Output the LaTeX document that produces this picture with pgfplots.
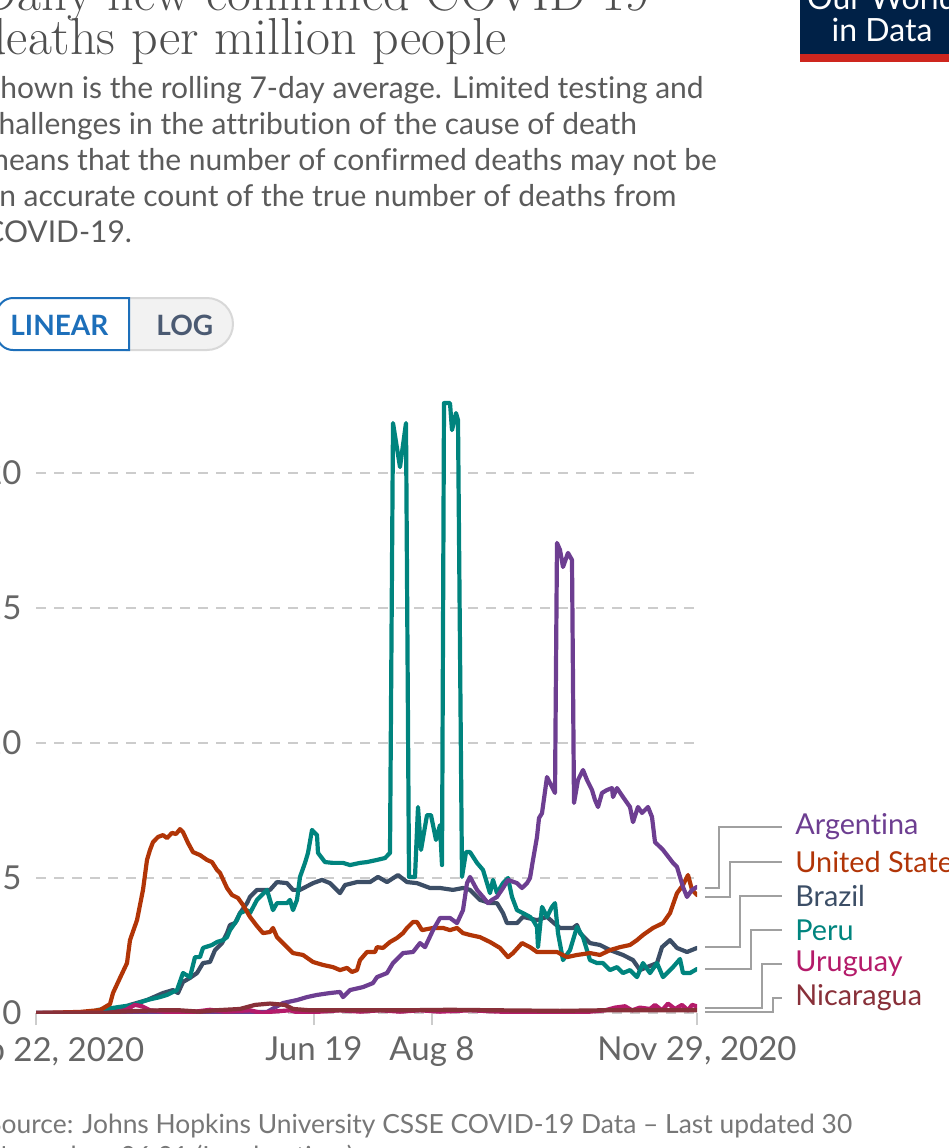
\documentclass[border=0pt]{standalone}
\usepackage{pgfplots}
\pgfplotsset{compat=1.18}
\usepackage{fontspec}
\newfontfamily\lato{Lato}[Ligatures={NoCommon}]
\definecolor{ttl}{HTML}{4F4F4F}
\definecolor{subc}{HTML}{5B5B5B}
\definecolor{tickc}{HTML}{666666}
\definecolor{gridc}{HTML}{CCCCCC}
\definecolor{leadc}{HTML}{A0A0A0}
\definecolor{arg}{HTML}{6D3E91}
\definecolor{usa}{HTML}{B13507}
\definecolor{bra}{HTML}{3C4E66}
\definecolor{per}{HTML}{00847E}
\definecolor{uru}{HTML}{B41B6A}
\definecolor{nic}{HTML}{883039}
\definecolor{owid}{HTML}{002147}
\definecolor{owidred}{HTML}{CE261E}
\definecolor{linblue}{HTML}{1D6FBA}
\definecolor{logc}{HTML}{4B5A72}
\definecolor{btngray}{HTML}{F2F2F2}
\definecolor{btnborder}{HTML}{D8D8D8}
\definecolor{srcc}{HTML}{777777}
\tikzset{ln/.style={line width=2.1pt, line join=round, line cap=round}}
\begin{document}
\begin{tikzpicture}
\path[use as bounding box] (0pt,0pt) rectangle (474.5pt,-574pt);
% chart
\begin{axis}[
  at={(18pt,-506.5pt)}, anchor=south west,
  scale only axis, width=330.5pt, height=310.5pt,
  xmin=36, xmax=697, ymin=0, ymax=23,
  axis line style={draw=none},
  ytick={0,5,10,15,20}, yticklabels={0,5,10,15,20},
  ymajorgrids, grid style={draw=gridc, line width=0.75pt, dash pattern=on 5pt off 4pt},
  ytick style={draw=none},
  xtick={36,314,432,697}, xtick pos=bottom,
  xticklabels={{\hspace*{12pt}Feb 22, 2020},{Jun 19},{Aug 8},{Nov 29, 2020}},
  xtick style={draw=gridc, line width=0.75pt},
  major tick length=6pt, tick align=outside,
  ticklabel style={font=\lato\fontsize{16.5}{19}\selectfont, text=tickc},
  xticklabel style={yshift=-2.5pt},
  yticklabel style={anchor=east, inner sep=0pt, xshift=-1pt},
]
\addplot[bra, ln] coordinates {(36,0) (100,0) (115,0.07) (130,0.30) (147,0.48) (163,0.74) (173,0.85) (178,0.74) (183,1.15) (190,1.30) (197,1.48) (203,1.85) (210,1.89) (215,2.33) (222,2.59) (227,2.96) (230,3.26) (235,3.33) (240,3.70) (247,4.07) (250,4.30) (257,4.56) (270,4.56) (277,4.85) (287,4.81) (293,4.56) (300,4.56) (313,4.81) (322,4.93) (330,4.81) (340,4.44) (345,4.74) (357,4.85) (370,4.85) (378,5.04) (387,4.85) (398,5.11) (407,4.85) (417,4.81) (430,4.63) (440,4.63) (453,4.56) (463,4.63) (470,4.56) (480,4.19) (490,4.07) (497,4.07) (503,3.70) (507,3.33) (517,3.33) (523,3.56) (537,3.44) (547,3.56) (555,3.30) (560,3.15) (573,3.15) (577,3.26) (580,2.96) (590,2.59) (600,2.52) (610,2.33) (623,2.15) (633,1.96) (640,1.59) (647,1.70) (657,1.85) (662,2.44) (670,2.70) (677,2.41) (687,2.26) (697,2.41)};
\addplot[per, ln] coordinates {(36,0) (95,0) (97,0.11) (113,0.19) (133,0.30) (147,0.48) (160,0.59) (167,0.67) (177,0.85) (183,1.48) (190,1.33) (195,2.07) (200,2.07) (203,2.41) (212,2.52) (217,2.63) (223,2.70) (227,2.81) (230,3.07) (237,3.44) (240,3.70) (247,3.81) (250,3.70) (257,4.19) (267,4.56) (273,3.81) (277,4.07) (287,4.07) (290,4.19) (293,3.81) (297,4.19) (300,5.04) (305,5.56) (308,5.93) (312,6.78) (317,6.59) (318,5.93) (325,5.59) (333,5.56) (343,5.56) (350,5.48) (360,5.56) (367,5.59) (377,5.67) (385,5.74) (390,5.93) (393,21.85) (400,20.22) (406,21.85) (409,5.04) (415,5.04) (418,7.63) (421,6.04) (427,7.33) (431,7.33) (436,6.41) (440,6.96) (442,5.48) (444,22.59) (450,22.59) (452,21.59) (456,22.22) (458,21.96) (462,5.04) (466,5.96) (470,5.96) (477,5.56) (483,5.30) (487,4.81) (490,4.44) (493,4.93) (497,4.44) (503,4.81) (508,5.00) (512,4.30) (517,3.81) (523,3.70) (530,3.56) (533,3.44) (537,3.19) (538,2.44) (542,3.93) (547,3.56) (552,3.93) (555,4.07) (558,2.96) (563,1.96) (570,2.33) (577,3.19) (583,2.81) (590,1.96) (597,1.85) (603,1.85) (610,1.59) (617,1.70) (623,1.48) (630,1.59) (637,1.33) (643,1.85) (650,1.48) (657,1.85) (663,1.33) (673,1.70) (680,2.00) (683,1.48) (690,1.48) (697,1.63)};
\addplot[usa, ln] coordinates {(36,0) (80,0.04) (100,0.11) (110,0.33) (113,0.74) (120,1.30) (127,1.85) (130,2.70) (137,3.44) (143,4.56) (147,5.67) (150,6.04) (153,6.33) (158,6.52) (163,6.59) (167,6.48) (172,6.67) (176,6.63) (180,6.81) (183,6.70) (188,6.30) (193,5.96) (200,5.85) (207,5.67) (212,5.59) (217,5.30) (220,5.19) (227,4.63) (232,4.37) (238,4.26) (243,4.00) (250,3.56) (257,3.22) (263,2.96) (270,3.00) (273,3.15) (277,2.81) (287,2.44) (293,2.22) (303,2.15) (313,1.89) (323,1.78) (333,1.70) (340,1.59) (347,1.67) (352,1.52) (357,1.59) (360,1.96) (367,2.26) (375,2.26) (377,2.44) (383,2.41) (390,2.63) (397,2.78) (403,2.96) (407,3.15) (413,3.37) (417,3.37) (422,3.07) (433,3.15) (443,3.15) (450,3.07) (457,3.15) (463,2.96) (470,2.89) (480,2.81) (490,2.63) (500,2.41) (508,2.07) (513,2.22) (522,2.59) (530,2.44) (537,2.26) (557,2.26) (567,2.07) (577,2.15) (590,2.22) (600,2.15) (610,2.33) (620,2.44) (630,2.52) (637,2.70) (643,2.89) (653,3.15) (663,3.33) (670,3.70) (677,4.44) (683,4.74) (688,5.11) (692,4.56) (697,4.37)};
\addplot[arg, ln] coordinates {(36,0) (240,0) (255,0.04) (267,0.04) (283,0.37) (297,0.48) (307,0.59) (317,0.67) (330,0.74) (340,0.78) (343,0.59) (350,0.85) (363,0.96) (373,1.11) (377,1.33) (387,1.48) (393,1.85) (403,2.22) (413,2.26) (420,2.59) (425,2.44) (433,3.07) (440,3.52) (450,3.52) (457,3.33) (463,3.81) (467,4.81) (470,5.04) (477,4.56) (483,4.30) (488,4.07) (492,4.19) (497,4.30) (503,4.63) (508,4.93) (517,4.81) (522,4.63) (527,4.81) (530,5.00) (533,5.67) (537,6.52) (539,7.22) (542,7.40) (547,8.74) (552,8.37) (555,8.15) (557,17.41) (560,17.15) (563,16.52) (568,17.04) (572,16.78) (574,7.78) (578,8.63) (583,9.00) (587,8.63) (592,8.26) (595,7.89) (598,7.63) (602,8.15) (607,8.26) (612,8.33) (613,8.00) (617,8.33) (623,8.00) (630,7.63) (633,7.07) (638,7.63) (642,7.41) (648,7.63) (652,7.26) (655,6.33) (660,6.15) (663,6.04) (667,5.85) (673,5.56) (677,5.41) (680,5.04) (683,4.67) (687,4.30) (692,4.56) (697,4.67)};
\addplot[uru, ln] coordinates {(36,0) (110,0) (125,0.1) (135,0.3) (142,0.25) (150,0.1) (165,0.05) (195,0.05) (210,0.12) (225,0.05) (250,0.1) (262,0.0) (272,0.05) (290,0.1) (300,0.0) (320,0.05) (340,0.1) (360,0.05) (380,0.1) (400,0.05) (420,0.1) (440,0.05) (470,0.1) (500,0.05) (515,0.0) (530,0.05) (560,0.0) (590,0.05) (605,0.1) (615,0.2) (625,0.25) (632,0.1) (640,0.2) (650,0.15) (655,0.3) (662,0.1) (668,0.35) (675,0.15) (682,0.3) (688,0.1) (692,0.3) (697,0.25)};
\addplot[nic, ln] coordinates {(36,0) (105,0) (120,0.05) (140,0.08) (160,0.1) (180,0.1) (200,0.05) (215,0.1) (240,0.15) (255,0.3) (270,0.35) (285,0.3) (293,0.15) (310,0.1) (400,0.1) (450,0.12) (500,0.1) (560,0.08) (600,0.1) (650,0.1) (697,0.1)};
\end{axis}
\begin{scope}[x=0.5pt,y=-0.5pt]
% title
\node[anchor=base west, inner sep=0pt, text=ttl, font=\fontsize{26}{30}\selectfont] at (-20,10) {Daily new confirmed COVID-19};
\node[anchor=base west, inner sep=0pt, text=ttl, font=\fontsize{26}{30}\selectfont] at (-20,54) {deaths per million people};
% subtitle
\begin{scope}[every node/.style={anchor=base west, inner sep=0pt, text=subc, font=\lato\fontsize{15}{18}\selectfont}]
\node at (-16,98) {Shown is the rolling 7-day average. Limited testing and};
\node at (-16,134) {challenges in the attribution of the cause of death};
\node at (-16,170) {means that the number of confirmed deaths may not be};
\node at (-16,206) {an accurate count of the true number of deaths from};
\node at (-16,242) {COVID-19.};
\end{scope}
% logo
\fill[owid] (800,0) rectangle (949,54);
\fill[owidred] (800,54) rectangle (949,62);
\node[anchor=base, inner sep=0pt, text=white, font=\lato\fontsize{16}{18}\selectfont] at (882,9) {Our World};
\node[anchor=base, inner sep=0pt, text=white, font=\lato\fontsize{16}{18}\selectfont] at (882,41) {in Data};
% buttons
\filldraw[fill=btngray, draw=btnborder, line width=1pt, rounded corners=13pt] (100,298) rectangle (233,350);
\filldraw[fill=white, draw=linblue, line width=1pt] (129,298) [rounded corners=8pt]-- (-3,298) -- (-3,350) [sharp corners]-- (129,350) -- cycle;
\node[anchor=base west, inner sep=0pt, text=linblue, font=\lato\bfseries\fontsize{14}{16}\selectfont] at (10,335) {LINEAR};
\node[anchor=base west, inner sep=0pt, text=logc, font=\lato\bfseries\fontsize{14}{16}\selectfont] at (156,335) {LOG};
% leader lines
\begin{scope}[draw=leadc, line width=0.75pt]
\draw (705,888) -- (719,888) -- (719,827) -- (782,827);
\draw (705,897) -- (730,897) -- (730,862) -- (782,862);
\draw (705,947) -- (740,947) -- (740,896) -- (782,896);
\draw (705,969) -- (751,969) -- (751,930) -- (782,930);
\draw (705,1008) -- (762,1008) -- (762,964) -- (782,964);
\draw (705,1012) -- (773,1012) -- (773,998) -- (782,998);
\end{scope}
\begin{scope}[every node/.style={anchor=west, inner sep=0pt, font=\lato\fontsize{14.4}{16}\selectfont}]
\node[text=arg] at (795,827) {Argentina};
\node[text=usa] at (795,862) {United States};
\node[text=bra] at (795,896) {Brazil};
\node[text=per] at (795,930) {Peru};
\node[text=uru] at (795,964) {Uruguay};
\node[text=nic] at (795,998) {Nicaragua};
\end{scope}
% source
\node[anchor=base west, inner sep=0pt, text=srcc, font=\lato\fontsize{13.2}{16}\selectfont] at (-13,1133) {Source: Johns Hopkins University CSSE COVID-19 Data – Last updated 30};
\node[anchor=base west, inner sep=0pt, text=srcc, font=\lato\fontsize{13.2}{16}\selectfont] at (-13,1165) {November, 06:01 (London time)};
\end{scope}
\end{tikzpicture}
\end{document}
